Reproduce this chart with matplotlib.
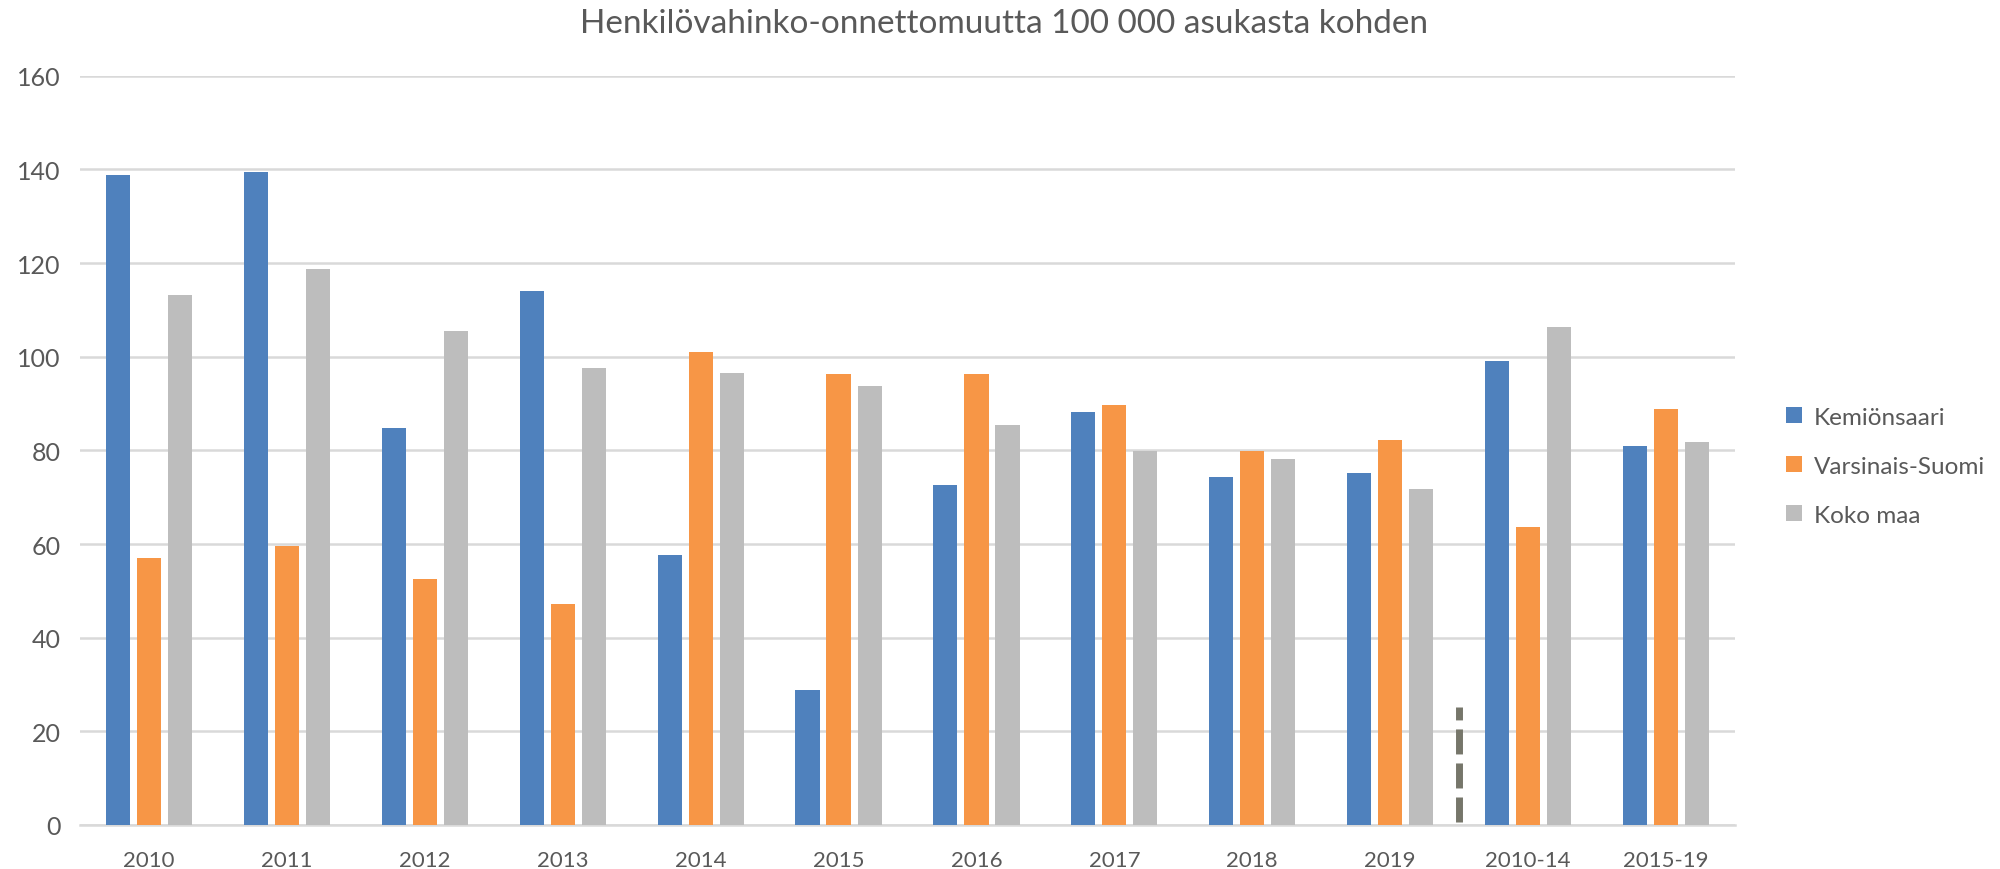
import numpy as np
import matplotlib
matplotlib.use('Agg')
from matplotlib import pyplot as plt

plt.rcParams['font.family'] = ['Lato', 'DejaVu Sans']

categories = ['2010', '2011', '2012', '2013', '2014', '2015', '2016', '2017', '2018', '2019', '2010-14', '2015-19']
kemionsaari = [138.9, 139.5, 84.8, 114.0, 57.6, 28.8, 72.6, 88.2, 74.3, 75.1, 99.0, 80.9]
varsinais_suomi = [57.0, 59.5, 52.6, 47.2, 101.1, 96.2, 96.2, 89.7, 79.8, 82.2, 63.6, 88.8]
koko_maa = [113.2, 118.7, 105.5, 97.6, 96.5, 93.7, 85.5, 79.8, 78.1, 71.8, 106.3, 81.8]
series_names = ['Kemiönsaari', 'Varsinais-Suomi', 'Koko maa']

# separator between yearly values and 5-year averages
sep_pos = 9.5
sep_range = (0.7, 25.1)

text_col = '#595959'
grid_col = '#d9d9d9'
colors = ['#4f81bd', '#f79646', '#bdbdbd']

fig = plt.figure(figsize=(20, 8.7), dpi=100)
ax = fig.add_axes([0.04, 0.0506, 0.8275, 0.8612])

x = np.arange(len(categories))
w = 0.175
step = 0.225
for i, (vals, name) in enumerate(zip([kemionsaari, varsinais_suomi, koko_maa], series_names)):
    ax.bar(x + (i - 1) * step, vals, width=w, color=colors[i], label=name, zorder=3)

ax.plot([sep_pos, sep_pos], sep_range, color='#76766a', lw=5, dashes=(3.6, 1.3), zorder=4)

ax.set_xlim(-0.5, len(categories) - 0.5)
ax.set_ylim(0, 160)
ax.set_yticks(np.arange(0, 161, 20))
ax.set_xticks(x)
ax.set_xticklabels(categories)
ax.grid(axis='y', color=grid_col, lw=1.8, zorder=0)
ax.tick_params(axis='both', length=0, colors=text_col)
ax.tick_params(axis='y', labelsize=18, pad=14)
ax.tick_params(axis='x', labelsize=16, pad=18)
for s in ['top', 'right', 'left']:
    ax.spines[s].set_visible(False)
ax.spines['bottom'].set_color(grid_col)
ax.spines['bottom'].set_linewidth(1.8)

fig.suptitle('Henkilövahinko-onnettomuutta 100 000 asukasta kohden', x=0.502, y=0.99,
             va='top', fontsize=24, color=text_col)

leg = fig.legend(loc='center left', bbox_to_anchor=(0.882, 0.463), frameon=False,
                 fontsize=17.5, handlelength=0.65, handleheight=0.65, handletextpad=0.5,
                 labelspacing=1.15)
for t in leg.get_texts():
    t.set_color(text_col)

fig.savefig('out.png', dpi=100)
